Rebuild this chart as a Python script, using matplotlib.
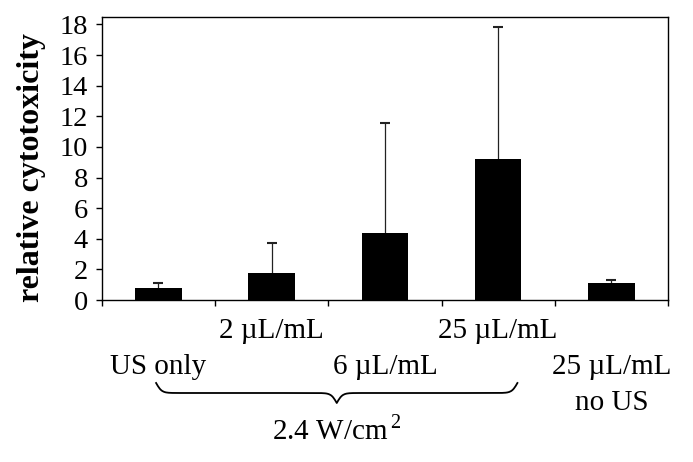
import numpy as np
import matplotlib
matplotlib.use("Agg")
import matplotlib.pyplot as plt
from matplotlib.transforms import blended_transform_factory

plt.rcParams['font.family'] = ['Liberation Serif', 'DejaVu Serif']
plt.rcParams['mathtext.fontset'] = 'custom'
plt.rcParams['mathtext.rm'] = 'Liberation Serif'

# =========================
# DATA
# =========================
categories = ["\nUS only", "2 \u00b5L/mL", "\n6 \u00b5L/mL", "25 \u00b5L/mL", "\n25 \u00b5L/mL\nno US"]
cytotoxicity = [0.76, 1.74, 4.35, 9.24, 1.09]
err_upper = [0.37, 2.0, 7.22, 8.59, 0.21]
y_ticks = [0, 2, 4, 6, 8, 10, 12, 14, 16, 18]
brace_span = (-0.02, 3.17)          # categories covered by the brace
brace_label = "2.4 W/cm$^{\\,2}$"

# =========================
# FIGURE
# =========================
fig = plt.figure(figsize=(6.93, 4.62), dpi=100)
ax = fig.add_axes([0.1468, 0.3506, 0.8172, 0.6132])

x = np.arange(len(cytotoxicity))
ax.bar(x, cytotoxicity, width=0.41, color="black", zorder=2)
eb = ax.errorbar(x, cytotoxicity, yerr=[np.zeros(len(x)), err_upper], fmt="none",
                 ecolor="#222222", elinewidth=0.9, capsize=3.6, capthick=1.5, zorder=1)
eb[1][0].set_visible(False)   # no cap at the bar top

ax.set_xlim(-0.5, len(x) - 0.5)
ax.set_ylim(0, 18.5)
ax.set_yticks(y_ticks)
ax.tick_params(axis="y", direction="out", length=4, width=1, labelsize=20.5, pad=6)

# category labels on major ticks, tick marks on the category boundaries
ax.set_xticks(x)
ax.set_xticklabels(categories, fontsize=21, linespacing=1.5)
ax.tick_params(axis="x", which="major", length=0, pad=13)
ax.set_xticks(np.arange(-0.5, len(x), 1.0), minor=True)
ax.tick_params(axis="x", which="minor", direction="out", length=4, width=1)

for s in ax.spines.values():
    s.set_linewidth(1.0)

fig.text(32 / 693, 1 - 168 / 462, "relative cytotoxicity", rotation=90,
         fontsize=23, fontweight="bold", ha="center", va="center")

# --- curly brace under the ultrasound groups
trans = blended_transform_factory(ax.transData, fig.transFigure)
x0, x1 = brace_span
xs = np.linspace(x0, x1, 401)
half = xs[:201]
beta = 40.0
yh = 1 / (1 + np.exp(-beta * (half - half[0]))) + 1 / (1 + np.exp(-beta * (half - half[-1])))
yb = np.concatenate([yh, yh[-2::-1]])
y_px = 383 + (yb - 0.5) * 20
ax.plot(xs, 1 - y_px / 462, color="black", lw=1.3, transform=trans, clip_on=False)
ax.text((x0 + x1) / 2, 1 - 430 / 462, brace_label, fontsize=21,
        ha="center", va="center", transform=trans)

fig.savefig("out.png", dpi=100)
